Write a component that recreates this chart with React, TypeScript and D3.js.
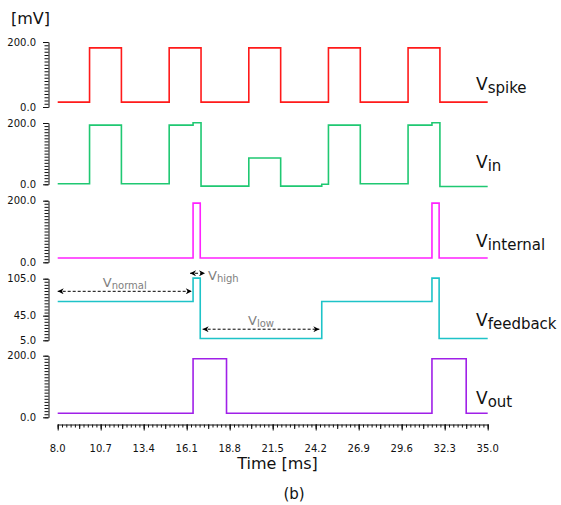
import * as d3 from "d3";
import React, { useEffect, useRef } from "react";

// time breakpoints (ms) and levels (mV), drawn as steps
const spikeT = [8, 10, 12, 15, 17, 20, 22, 25, 27, 30, 32, 35];
const spikeV = [15, 182, 15, 182, 15, 182, 15, 182, 15, 182, 15, 15];

const inT = [8, 10, 12, 15, 16.5, 17, 20, 22, 24.58, 25, 27, 30, 31.5, 32, 35];
const inV = [2, 193, 2, 193, 201, -6, 86, -6, 0, 193, 2, 193, 201, -7, -7];

const internalT = [8, 16.5, 16.95, 31.5, 31.95, 35];
const internalV = [14, 192, 14, 192, 14, 14];

const feedbackT = [8, 16.5, 16.95, 24.58, 31.5, 31.95, 35];
const feedbackV = [68, 106, 8, 68, 106, 8, 8];

const outT = [8, 16.5, 18.6, 31.5, 33.65, 35];
const outV = [13, 190, 13, 190, 13, 13];

const xTickLabels = ["8.0", "10.7", "13.4", "16.1", "18.8", "21.5", "24.2", "26.9", "29.6", "32.3", "35.0"];

const FONT = "DejaVu Sans, Verdana, sans-serif";

const panels = [
  { name: "spike", t: spikeT, v: spikeV, color: "#ff1a1a", domain: [0, 200], range: [107, 42], ticks: [0, 200], step: 10, labelY: 90 },
  { name: "in", t: inT, v: inV, color: "#1fc872", domain: [0, 200], range: [184.3, 123], ticks: [0, 200], step: 10, labelY: 168 },
  { name: "internal", t: internalT, v: internalV, color: "#ff22ff", domain: [0, 200], range: [262.3, 200.7], ticks: [0, 200], step: 10, labelY: 247 },
  { name: "feedback", t: feedbackT, v: feedbackV, color: "#1ec3c8", domain: [5, 105], range: [340.3, 278.7], ticks: [5, 45, 105], step: 5, labelY: 326 },
  { name: "out", t: outT, v: outV, color: "#a020e8", domain: [0, 200], range: [417.3, 355.7], ticks: [0, 200], step: 10, labelY: 404 },
];

// annotations on the feedback panel: [t1, t2, mV]
const annotations = [
  { sub: "normal", t1: 8, t2: 16.42, v: 84.5, side: "above" },
  { sub: "high", t1: 16.31, t2: 17.25, v: 113.8, side: "right" },
  { sub: "low", t1: 17.1, t2: 24.43, v: 23, side: "above" },
];

const AXIS_X = 48.5;
const AXIS_Y = 424.5;

export default function App() {
  const axesRef = useRef<SVGGElement>(null);
  const x = d3.scaleLinear().domain([8, 35]).range([57.7, 487.7]);
  const fb = panels[3];
  const yFb = d3.scaleLinear().domain(fb.domain).range(fb.range);

  useEffect(() => {
    const g = d3.select(axesRef.current);
    g.selectAll("*").remove();

    // y axes: minor comb + labelled ends
    panels.forEach((p) => {
      const y = d3.scaleLinear().domain(p.domain).range(p.range);
      const minor = d3.range(p.domain[0], p.domain[1] + 0.001, p.step);
      g.append("g")
        .attr("transform", `translate(${AXIS_X},0)`)
        .call(d3.axisLeft(y).tickValues(minor).tickSize(4).tickSizeOuter(0).tickFormat(() => ""));
      g.append("g")
        .attr("transform", `translate(${AXIS_X},0)`)
        .call(d3.axisLeft(y).tickValues(p.ticks).tickSize(5.5).tickSizeOuter(0).tickFormat(() => ""))
        .select(".domain").remove();
    });

    // time axis
    const minorX = d3.range(0, 101).map((i) => 8 + i * 0.27);
    const midX = d3.range(0, 21).map((i) => 8 + i * 1.35);
    g.append("g")
      .attr("transform", `translate(0,${AXIS_Y})`)
      .call(d3.axisBottom(x).tickValues(minorX).tickSize(3).tickSizeOuter(0).tickFormat(() => ""));
    g.append("g")
      .attr("transform", `translate(0,${AXIS_Y})`)
      .call(d3.axisBottom(x).tickValues(midX).tickSize(4.5).tickSizeOuter(0).tickFormat(() => ""))
      .select(".domain").remove();
    g.append("g")
      .attr("transform", `translate(0,${AXIS_Y})`)
      .call(d3.axisBottom(x).tickValues(xTickLabels.map(Number)).tickSize(6).tickSizeOuter(0).tickFormat(() => ""))
      .select(".domain").remove();

    g.selectAll(".domain, .tick line").attr("stroke", "#111").attr("stroke-width", 1);
  }, []);

  return (
    <svg
      width={561}
      height={505}
      style={{ position: "absolute", left: 0, top: 0, background: "#fff" }}
      fontFamily={FONT}
    >
      <defs>
        <marker id="ah" viewBox="0 0 10 10" refX="10" refY="5" markerWidth="7" markerHeight="6" orient="auto-start-reverse" markerUnits="userSpaceOnUse">
          <path d="M0,0 L10,5 L0,10 L3,5 Z" fill="#000" />
        </marker>
      </defs>

      <g ref={axesRef} />

      <text x={11} y={24} fontSize={16} fill="#111">[mV]</text>

      {panels.map((p) => {
        const y = d3.scaleLinear().domain(p.domain).range(p.range);
        const pts = p.t.map((t, i) => [t, p.v[i]] as [number, number]);
        const line = d3.line<[number, number]>()
          .x((d) => x(d[0]))
          .y((d) => y(d[1]))
          .curve(d3.curveStepAfter);
        return (
          <g key={p.name}>
            {p.ticks.map((tk) => (
              <text key={tk} x={36} y={y(tk)} dy="0.35em" fontSize={10} textAnchor="end" fill="#111">
                {tk.toFixed(1)}
              </text>
            ))}
            <path d={line(pts) || ""} fill="none" stroke={p.color} strokeWidth={1.6} />
            <text x={476} y={p.labelY} fontSize={17} fill="#111">
              V<tspan fontSize={15} dy={3}>{p.name}</tspan>
            </text>
          </g>
        );
      })}

      {annotations.map((a) => {
        const x1 = x(a.t1);
        const x2 = x(a.t2);
        const yy = yFb(a.v);
        const lx = a.side === "right" ? x2 + 3 : (x1 + x2) / 2;
        const ly = a.side === "right" ? yy + 7 : yy - 4;
        return (
          <g key={a.sub}>
            <line x1={x1} x2={x2} y1={yy} y2={yy} stroke="#000" strokeWidth={1} strokeDasharray="3,2" markerStart="url(#ah)" markerEnd="url(#ah)" />
            <text x={lx} y={ly} fontSize={13} fill="#808080" textAnchor={a.side === "right" ? "start" : "middle"}>
              V<tspan fontSize={10} dy={2}>{a.sub}</tspan>
            </text>
          </g>
        );
      })}

      {xTickLabels.map((lab) => (
        <text key={lab} x={x(+lab)} y={452} fontSize={10} textAnchor="middle" fill="#111">{lab}</text>
      ))}
      <text x={277.5} y={469} fontSize={16} textAnchor="middle" fill="#111">Time [ms]</text>
      <text x={294} y={499} fontSize={15} textAnchor="middle" fill="#111">(b)</text>
    </svg>
  );
}
